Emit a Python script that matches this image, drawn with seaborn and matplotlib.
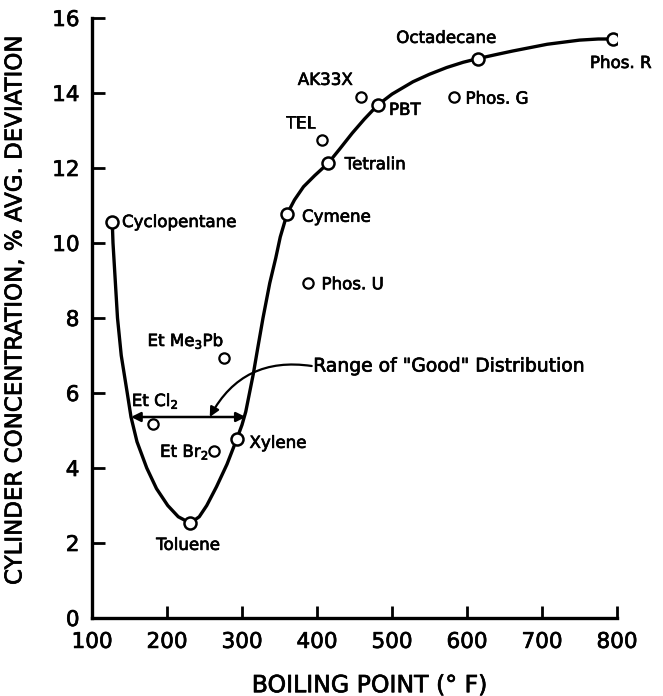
import matplotlib
matplotlib.use("Agg")
import matplotlib.pyplot as plt
import matplotlib.patheffects as pe
import seaborn as sns
import pandas as pd

# ---- data ----
compounds = ["Cyclopentane", "Toluene", "Xylene", "Et Cl$_2$", "Et Br$_2$", "Et Me$_3$Pb",
             "Cymene", "Phos. U", "Tetralin", "TEL", "AK33X", "PBT", "Phos. G",
             "Octadecane", "Phos. R"]
boiling_point = [127, 231, 293, 181, 263, 276, 360, 388, 415, 407, 459, 481, 583, 615, 795]
concentration = [10.56, 2.53, 4.77, 5.17, 4.45, 6.93, 10.77, 8.93, 12.13, 12.75, 13.9, 13.68,
                 13.9, 14.9, 15.44]
on_curve = [True, True, True, False, False, False, True, False, True, False, False, True,
            False, True, True]

# hand-drawn trend curve
curve_x = [127, 128, 131, 134, 139, 147, 152, 160, 173, 186, 201, 215, 231, 243, 253, 266,
           280, 293, 300, 305, 310, 315, 321, 328, 337, 345, 351, 360, 370, 382, 397, 415,
           430, 447, 463, 481, 500, 528, 550, 573, 595, 615, 640, 661, 707, 750, 775, 795]
curve_y = [10.56, 10.0, 9.0, 8.0, 7.0, 6.0, 5.36, 4.7, 4.0, 3.45, 3.0, 2.7, 2.53, 2.7, 3.0,
           3.5, 4.1, 4.77, 5.15, 5.5, 6.0, 6.5, 7.2, 8.0, 8.93, 9.6, 10.16, 10.77, 11.15, 11.5,
           11.8, 12.13, 12.5, 12.93, 13.3, 13.68, 13.97, 14.3, 14.5, 14.68, 14.82, 14.92,
           15.03, 15.12, 15.3, 15.41, 15.44, 15.44]

# labels: text, x, y, horizontal alignment
label_text = ["Cyclopentane", "Toluene", "Xylene", "Et Cl$_2$", "Et Br$_2$", "Et Me$_3$Pb",
              "Cymene", "Phos. U", "Tetralin", "TEL", "AK33X", "PBT", "Phos. G",
              "Octadecane", "Phos. R"]
label_x = [140, 228, 310, 153, 256, 174, 380, 406, 437, 378, 411, 496, 598, 572, 805]
label_y = [10.56, 1.95, 4.67, 5.8, 4.43, 7.4, 10.7, 8.9, 12.1, 13.2, 14.35, 13.55, 13.85,
           15.47, 14.8]
label_ha = ["left", "center", "left", "left", "right", "left", "left", "left", "left",
            "center", "center", "left", "left", "center", "center"]

range_x = [152, 305]
range_y = 5.36
range_text = 'Range of "Good" Distribution'

x_ticks = [100, 200, 300, 400, 500, 600, 700, 800]
y_ticks = [0, 2, 4, 6, 8, 10, 12, 14, 16]

sns.set_style("ticks")
plt.rcParams["font.family"] = ["DejaVu Sans"]
plt.rcParams["text.color"] = "black"
plt.rcParams["axes.labelcolor"] = "black"

heavy = [pe.withStroke(linewidth=0.5, foreground="black")]

fig = plt.figure(figsize=(6.63, 6.96), dpi=100)
ax = fig.add_axes([92 / 663, 78 / 696, 525 / 663, 600 / 696])

curve_df = pd.DataFrame({"bp": curve_x, "conc": curve_y})
sns.lineplot(data=curve_df, x="bp", y="conc", sort=False, estimator=None, color="black",
             linewidth=2.4, ax=ax, zorder=2)

pts = pd.DataFrame({"bp": boiling_point, "conc": concentration, "on": on_curve})
sns.scatterplot(data=pts[pts["on"]], x="bp", y="conc", s=75, facecolor="white",
                edgecolor="black", linewidth=1.8, ax=ax, zorder=3)
sns.scatterplot(data=pts[~pts["on"]], x="bp", y="conc", s=55, facecolor="white",
                edgecolor="black", linewidth=1.6, ax=ax, zorder=3)

for t, x, y, ha in zip(label_text, label_x, label_y, label_ha):
    ax.text(x, y, t, ha=ha, va="center", fontsize=12, color="black", clip_on=False,
            path_effects=heavy)

# range double arrow
ax.annotate("", xy=(range_x[0], range_y), xytext=(range_x[1], range_y),
            arrowprops=dict(arrowstyle="<|-|>", color="black", lw=1.8,
                            mutation_scale=14, shrinkA=0, shrinkB=0))
# curved pointer from text
ax.text(395, 6.72, range_text, ha="left", va="center", fontsize=13.5, color="black",
        path_effects=heavy, clip_on=False)
ax.annotate("", xy=(257, range_y), xytext=(393, 6.72),
            arrowprops=dict(arrowstyle="-|>", color="black", lw=1.6, mutation_scale=14,
                            shrinkA=0, shrinkB=0, connectionstyle="arc3,rad=0.35"))

ax.set_xlim(100, 800)
ax.set_ylim(0, 16)
ax.set_xticks(x_ticks)
ax.set_yticks(y_ticks)
ax.tick_params(axis="both", direction="in", length=9, width=2, labelsize=15.5,
               colors="black")
ax.tick_params(axis="y", pad=9)
ax.tick_params(axis="x", pad=10)
for lab in ax.get_xticklabels() + ax.get_yticklabels():
    lab.set_path_effects(heavy)
for s in ["top", "right"]:
    ax.spines[s].set_visible(False)
for s in ["left", "bottom"]:
    ax.spines[s].set_linewidth(2.4)
    ax.spines[s].set_color("black")

ax.set_xlabel("BOILING POINT (° F)", fontsize=17, color="black", path_effects=heavy)
ax.set_ylabel("CYLINDER CONCENTRATION, % AVG. DEVIATION", fontsize=16.5, color="black",
              path_effects=heavy)
ax.xaxis.set_label_coords(0.53, -0.092)
ax.yaxis.set_label_coords(-0.125, 0.512)

fig.savefig("out.png", dpi=100)
